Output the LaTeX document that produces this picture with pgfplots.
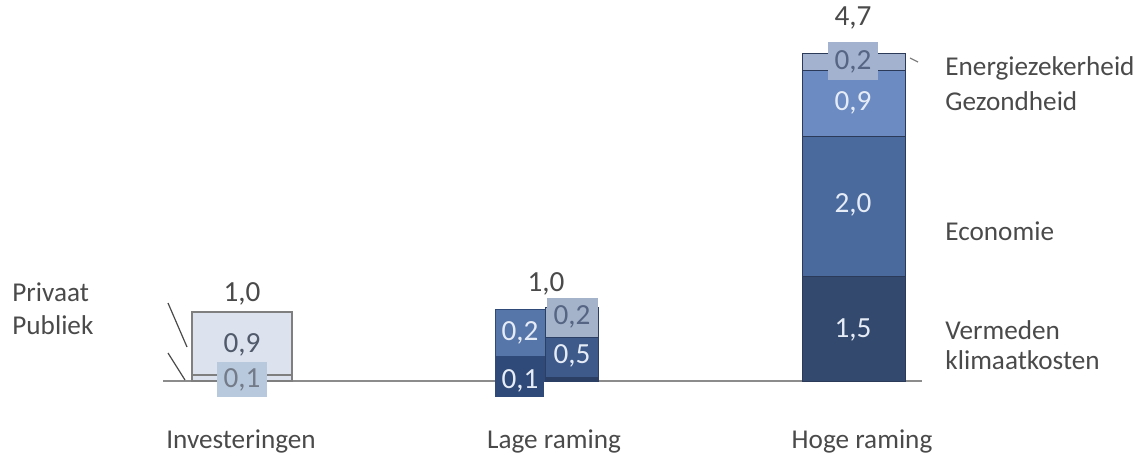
\documentclass[border=0pt]{standalone}
\usepackage{pgfplots}
\pgfplotsset{compat=1.18}
\usepackage{fontspec}
\setmainfont{Carlito}
\definecolor{navy}{HTML}{34496E}
\definecolor{econ}{HTML}{4A6A9E}
\definecolor{gez}{HTML}{6B8BC2}
\definecolor{energ}{HTML}{A3B3CF}
\definecolor{invfill}{HTML}{DCE3EF}
\definecolor{invedge}{HTML}{7F7F7F}
\definecolor{lagemid}{HTML}{5676AA}
\definecolor{lagedark}{HTML}{2F4A78}
\definecolor{lagemid2}{HTML}{3D5A8A}
\definecolor{lagedark2}{HTML}{2B3F64}
\definecolor{lagelight}{HTML}{A5B3CA}
\definecolor{boxlight}{HTML}{B9C9DD}
\definecolor{txtgray}{HTML}{4A4A4A}
\definecolor{txtval}{HTML}{505A6A}
\definecolor{txtwhite}{HTML}{E6ECF6}
\definecolor{basegray}{HTML}{8C8C8C}
\pgfplotsset{base/.style={scale only axis, width=571.5pt, height=228pt,
  xmin=0, xmax=1143, ymin=-1.0745, ymax=5.4585, hide axis, ybar stacked, clip=false}}
\begin{document}
\begin{tikzpicture}[every node/.style={font=\fontsize{13.6}{16}\selectfont, inner sep=0pt},
  val/.style={font=\fontsize{14.6}{16}\selectfont}]
\path[use as bounding box] (0,0) rectangle (571.5pt,228pt);
\begin{scope}[x=0.5pt, y=-0.5pt, shift={(0,228pt)}]
\draw[basegray, line width=1.2pt] (163,381) -- (922,381);
\end{scope}
% Investeringen
\begin{axis}[base, bar width=100]
\addplot[fill=invfill, draw=invedge, line width=0.8pt] coordinates {(242,0.09)};
\addplot[fill=invfill, draw=invedge, line width=0.8pt] coordinates {(242,0.90)};
\end{axis}
% Lage raming, left column
\begin{axis}[base, bar width=50]
\addplot[fill=lagedark, draw=lagedark, line width=0.3pt] coordinates {(520,0.35)};
\addplot[fill=lagemid, draw=lagedark, line width=0.3pt] coordinates {(520,0.68)};
\end{axis}
% Lage raming, right column
\begin{axis}[base, bar width=53]
\addplot[fill=lagedark2, draw=lagedark2, line width=0.3pt] coordinates {(571.5,0.06)};
\addplot[fill=lagemid2, draw=lagedark2, line width=0.3pt] coordinates {(571.5,0.57)};
\addplot[fill=lagelight, draw=lagedark2, line width=0.3pt] coordinates {(571.5,0.42)};
\end{axis}
% Hoge raming
\begin{axis}[base, bar width=103]
\addplot[fill=navy, draw=navy!80!black, line width=0.4pt] coordinates {(853.5,1.5)};
\addplot[fill=econ, draw=navy!80!black, line width=0.4pt] coordinates {(853.5,2.0)};
\addplot[fill=gez, draw=navy!80!black, line width=0.4pt] coordinates {(853.5,0.95)};
\addplot[fill=energ, draw=navy!80!black, line width=0.4pt] coordinates {(853.5,0.25)};
\end{axis}
\begin{scope}[x=0.5pt, y=-0.5pt, shift={(0,228pt)}]
% label boxes
\fill[boxlight] (217,362) rectangle (267,397);
\fill[lagedark] (495,363) rectangle (544,397);
\fill[lagelight] (547,298) rectangle (598,337);
\fill[energ] (828,42) rectangle (878,80);
% Investeringen texts
\node[val, txtgray] at (242,294) {1,0};
\node[val, txtval] at (242,345) {0,9};
\node[val, txtval!80!white] at (242,380) {0,1};
% Lage raming texts
\node[val, txtgray] at (546,284) {1,0};
\node[val, txtwhite] at (520,333) {0,2};
\node[val, txtwhite] at (520,381) {0,1};
\node[val, lagedark2!80!white] at (572,317) {0,2};
\node[val, txtwhite] at (572,356) {0,5};
% Hoge raming texts
\node[val, txtgray] at (853,18) {4,7};
\node[val, lagedark2!80!white] at (853,62) {0,2};
\node[val, txtwhite] at (853,103) {0,9};
\node[val, txtwhite] at (853,205) {2,0};
\node[val, txtwhite] at (853,330) {1,5};
% series labels right
\node[anchor=west, txtgray] at (945,68) {Energiezekerheid};
\node[anchor=west, txtgray] at (945,101) {Gezondheid};
\node[anchor=west, txtgray] at (945,231) {Economie};
\node[anchor=west, txtgray] at (945,330) {Vermeden};
\node[anchor=west, txtgray] at (945,360) {klimaatkosten};
% series labels left
\node[anchor=west, txtgray] at (12,292) {Privaat};
\node[anchor=west, txtgray] at (12,325) {Publiek};
% leader lines
\draw[txtgray, line width=0.6pt] (168,303) -- (187,347);
\draw[txtgray, line width=0.6pt] (168,353) -- (185,380);
\draw[gray, line width=0.6pt] (910,58) -- (918,62);
% category labels
\node[txtgray] at (241,441) {Investeringen};
\node[txtgray] at (554,441) {Lage raming};
\node[txtgray] at (862,441) {Hoge raming};
\end{scope}
\end{tikzpicture}
\end{document}
